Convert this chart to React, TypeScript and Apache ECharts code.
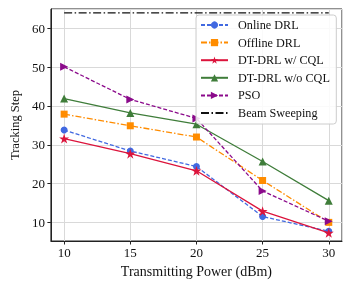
import React, { useEffect, useRef } from "react";
import * as echarts from "echarts";

const powers = [10, 15, 20, 25, 30];
const onlineDRL = [33.8, 28.4, 24.4, 11.5, 7.7];
const offlineDRL = [37.9, 34.9, 32.0, 20.8, 10.0];
const dtCQL = [31.6, 27.7, 23.3, 12.9, 7.3];
const dtNoCQL = [41.9, 38.2, 35.3, 25.7, 15.6];
const pso = [50.1, 41.7, 36.8, 18.1, 10.3];
const beam = [64, 64, 64, 64, 64];
const legendNames = ["Online DRL", "Offline DRL", "DT-DRL w/ CQL", "DT-DRL w/o CQL", "PSO", "Beam Sweeping"];

const STAR = "path://M50,0 L61.2,34.5 L97.6,34.5 L68.2,55.9 L79.4,90.5 L50,69.1 L20.6,90.5 L31.8,55.9 L2.4,34.5 L38.8,34.5 Z";
const FONT = "Liberation Serif";

function pairs(ys: number[]) {
  return powers.map((x, i) => [x, ys[i]]);
}

export default function App() {
  const ref = useRef<HTMLDivElement>(null);
  useEffect(() => {
    if (!ref.current) return;
    const chart = echarts.init(ref.current, undefined, { renderer: "svg" });
    const mk = (name: string, data: number[], color: string, type: any, symbol: string, size: number, rotate = 0, z = 2) => ({
      name,
      type: "line",
      data: pairs(data),
      symbol,
      symbolSize: size,
      symbolRotate: rotate,
      showSymbol: symbol !== "none",
      z,
      itemStyle: { color },
      lineStyle: { color, width: 1.3, type },
    });
    chart.setOption({
      animation: false,
      grid: { left: 45, right: 9, top: 9, bottom: 46, show: true, borderColor: "#222", borderWidth: 1, backgroundColor: "transparent" },
      xAxis: {
        type: "value",
        min: 9,
        max: 31,
        minInterval: 5,
        maxInterval: 5,
        name: "Transmitting Power (dBm)",
        nameLocation: "middle",
        nameGap: 23,
        nameTextStyle: { fontFamily: FONT, fontSize: 14, color: "#111" },
        axisLine: { show: true, lineStyle: { color: "#222" } },
        axisTick: { show: true, length: 3.5, lineStyle: { color: "#222" } },
        axisLabel: { fontFamily: FONT, fontSize: 13, color: "#111", margin: 5, showMinLabel: false, showMaxLabel: false },
        splitLine: { show: true, lineStyle: { color: "#d9d9d9", width: 1 } },
      },
      yAxis: {
        type: "value",
        min: 5.2,
        max: 65,
        minInterval: 10,
        maxInterval: 10,
        name: "Tracking Step",
        nameLocation: "middle",
        nameGap: 26,
        nameTextStyle: { fontFamily: FONT, fontSize: 12.5, color: "#111" },
        axisLine: { show: true, lineStyle: { color: "#222" } },
        axisTick: { show: true, length: 3.5, lineStyle: { color: "#222" } },
        axisLabel: { fontFamily: FONT, fontSize: 13, color: "#111", margin: 6, showMinLabel: false, showMaxLabel: false },
        splitLine: { show: true, lineStyle: { color: "#d9d9d9", width: 1 } },
      },
      legend: {
        left: 196,
        top: 15,
        orient: "vertical",
        itemWidth: 27,
        itemHeight: 9,
        itemGap: 3.6,
        padding: [3, 6, 4, 4],
        backgroundColor: "rgba(255,255,255,0.85)",
        borderColor: "#cccccc",
        borderWidth: 1,
        borderRadius: 3,
        textStyle: { fontFamily: FONT, fontSize: 12.2, color: "#111", lineHeight: 14, padding: [0, 0, 0, 5] },
        data: legendNames.map((n) => (n === "Beam Sweeping" ? { name: n, itemStyle: { opacity: 0 } } : n)),
      },
      series: [
        mk(legendNames[0], onlineDRL, "#4169e1", [4, 2], "circle", 7),
        mk(legendNames[1], offlineDRL, "#ff8c00", [6, 2, 1.5, 2], "rect", 7),
        mk(legendNames[2], dtCQL, "#dc143c", "solid", STAR, 10, 0, 4),
        mk(legendNames[3], dtNoCQL, "#3f7d3a", "solid", "triangle", 8),
        mk(legendNames[4], pso, "#8b0a8b", [4, 2], "triangle", 8, -90),
        mk(legendNames[5], beam, "#111111", [8, 2.5, 1.5, 2.5], "none", 0),
      ],
    });
    return () => chart.dispose();
  }, []);
  return <div ref={ref} style={{ position: "fixed", left: 0, top: 0, width: 351, height: 287 }} />;
}
